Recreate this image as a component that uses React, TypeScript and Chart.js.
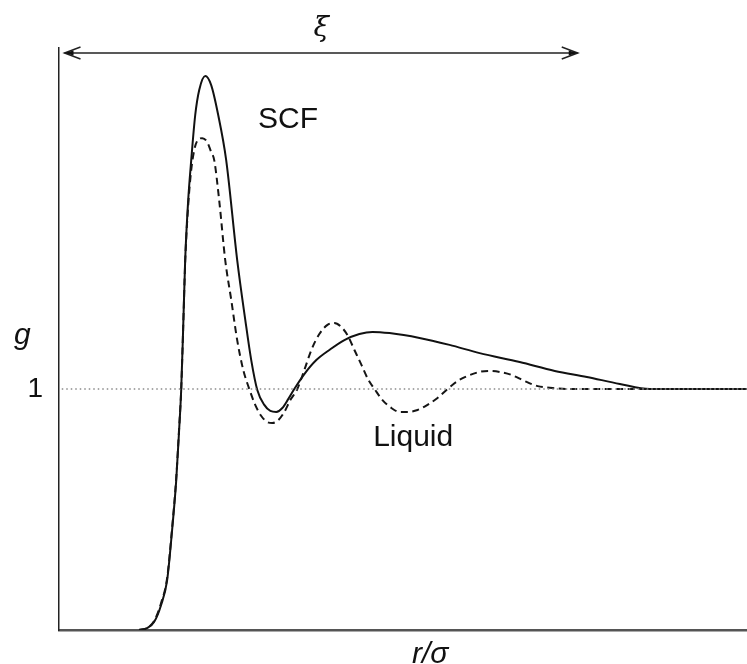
import React, { useEffect, useRef } from "react";
import { Chart, registerables } from "chart.js";

Chart.register(...registerables);

// r/sigma values and g(r) values for the supercritical fluid (solid) curve
const rScf = [0.582, 0.640, 0.691, 0.742, 0.786, 0.822, 0.852, 0.873, 0.888, 0.902, 0.917, 0.939, 0.961, 0.990, 1.019, 1.063, 1.106, 1.157, 1.215, 1.295, 1.354, 1.397, 1.441, 1.492, 1.536, 1.579, 1.623, 1.667, 1.710, 1.783, 1.870, 1.965, 2.074, 2.183, 2.278, 2.402, 2.620, 2.838, 3.057, 3.348, 3.603, 3.836, 4.076, 4.294, 4.658, 5.0];
const gScf = [0, 0.008, 0.033, 0.104, 0.207, 0.415, 0.622, 0.830, 0.996, 1.245, 1.535, 1.784, 1.950, 2.137, 2.241, 2.299, 2.261, 2.137, 1.950, 1.535, 1.286, 1.120, 0.996, 0.934, 0.909, 0.905, 0.921, 0.959, 1.0, 1.062, 1.120, 1.162, 1.203, 1.228, 1.237, 1.232, 1.212, 1.183, 1.149, 1.112, 1.075, 1.050, 1.021, 1.0, 1.0, 1.0];

// r/sigma values and g(r) values for the liquid (dashed) curve
const rLiq = [0.582, 0.640, 0.691, 0.742, 0.786, 0.822, 0.852, 0.873, 0.888, 0.902, 0.917, 0.939, 0.961, 0.983, 1.004, 1.041, 1.077, 1.106, 1.128, 1.164, 1.208, 1.252, 1.295, 1.339, 1.383, 1.426, 1.470, 1.514, 1.550, 1.594, 1.638, 1.681, 1.732, 1.783, 1.834, 1.892, 1.951, 2.001, 2.052, 2.096, 2.147, 2.198, 2.249, 2.293, 2.351, 2.416, 2.475, 2.533, 2.606, 2.678, 2.751, 2.824, 2.897, 2.969, 3.057, 3.130, 3.202, 3.290, 3.384, 3.479, 3.588, 3.712, 3.930, 4.294, 5.0];
const gLiq = [0, 0.008, 0.037, 0.112, 0.216, 0.423, 0.631, 0.838, 0.996, 1.245, 1.527, 1.763, 1.909, 1.992, 2.029, 2.041, 2.025, 1.983, 1.950, 1.784, 1.535, 1.369, 1.203, 1.079, 1.0, 0.934, 0.888, 0.863, 0.859, 0.871, 0.905, 0.954, 1.0, 1.079, 1.162, 1.228, 1.266, 1.274, 1.257, 1.224, 1.162, 1.100, 1.037, 1.0, 0.954, 0.921, 0.905, 0.905, 0.913, 0.934, 0.963, 1.0, 1.033, 1.054, 1.071, 1.075, 1.071, 1.058, 1.033, 1.012, 1.004, 1.0, 1.0, 1.0, 1.0];

// reference level g = 1
const rUnity = [0.02, 5.0];
const gUnity = [1, 1];

// y tick label shown
const yTickValues = [1];

// correlation length xi (arrow span in r/sigma)
const xiRange = [0.04, 3.77];

const X_MAX = 5.0;
const Y_MAX = 2.415;

const toPoints = (xs: number[], ys: number[]) => xs.map((x, i) => ({ x, y: ys[i] }));

const textPlugin = {
  id: "annotations",
  afterDraw(chart: any) {
    const { ctx, chartArea, scales } = chart;
    const x = scales.x;
    const y = scales.y;
    ctx.save();
    ctx.fillStyle = "#111";
    ctx.strokeStyle = "#222";

    // xi arrow
    const xl = x.getPixelForValue(xiRange[0]);
    const xr = x.getPixelForValue(xiRange[1]);
    const ya = chartArea.top + 5;
    ctx.lineWidth = 1.5;
    ctx.beginPath();
    ctx.moveTo(xl, ya);
    ctx.lineTo(xr, ya);
    ctx.stroke();
    const head = (tx: number, dir: number) => {
      ctx.beginPath();
      ctx.moveTo(tx + dir * 16, ya - 6);
      ctx.lineTo(tx, ya);
      ctx.lineTo(tx + dir * 16, ya + 6);
      ctx.stroke();
      ctx.beginPath();
      ctx.moveTo(tx, ya);
      ctx.lineTo(tx + dir * 9, ya - 2.5);
      ctx.lineTo(tx + dir * 9, ya + 2.5);
      ctx.closePath();
      ctx.fill();
    };
    head(xl, 1);
    head(xr, -1);

    ctx.font = "italic 28px 'DejaVu Serif'";
    ctx.textAlign = "center";
    ctx.textBaseline = "alphabetic";
    ctx.fillText("ξ", (xl + xr) / 2, 36);

    // curve labels
    ctx.font = "30px 'Liberation Sans'";
    ctx.textAlign = "left";
    ctx.fillText("SCF", x.getPixelForValue(1.446), y.getPixelForValue(2.083));
    ctx.fillText("Liquid", x.getPixelForValue(2.283), y.getPixelForValue(0.764));

    // y axis label and tick
    ctx.font = "italic 30px 'Liberation Sans'";
    ctx.textAlign = "left";
    ctx.fillText("g", 14, y.getPixelForValue(1.188));
    ctx.font = "28px 'Liberation Sans'";
    ctx.textAlign = "right";
    ctx.textBaseline = "middle";
    yTickValues.forEach((v) => ctx.fillText(String(v), 43, y.getPixelForValue(v)));

    // x axis label
    ctx.font = "italic 30px 'Liberation Sans'";
    ctx.textAlign = "left";
    ctx.textBaseline = "alphabetic";
    ctx.fillText("r/σ", 412, chartArea.bottom + 33);
    ctx.restore();
  },
};

export default function App() {
  const ref = useRef<HTMLCanvasElement | null>(null);
  useEffect(() => {
    if (!ref.current) return;
    const chart = new Chart(ref.current, {
      type: "scatter",
      data: {
        datasets: [
          {
            label: "unity",
            data: toPoints(rUnity, gUnity),
            showLine: true,
            borderColor: "#8a8a8a",
            borderWidth: 1.5,
            borderDash: [1.5, 3],
            pointRadius: 0,
          },
          {
            label: "Liquid",
            data: toPoints(rLiq, gLiq),
            showLine: true,
            borderColor: "#151515",
            borderWidth: 2,
            borderDash: [7, 4.5],
            pointRadius: 0,
            cubicInterpolationMode: "monotone",
          },
          {
            label: "SCF",
            data: toPoints(rScf, gScf),
            showLine: true,
            borderColor: "#111",
            borderWidth: 2,
            pointRadius: 0,
            cubicInterpolationMode: "monotone",
          },
        ],
      },
      options: {
        animation: false,
        responsive: false,
        layout: { padding: { left: 59, top: 48, right: 0, bottom: 34 } },
        plugins: { legend: { display: false }, tooltip: { enabled: false } },
        scales: {
          x: {
            type: "linear",
            min: 0,
            max: X_MAX,
            grid: { display: false, drawTicks: false },
            ticks: { display: false },
            border: { display: true, color: "#555", width: 2.5 },
          },
          y: {
            type: "linear",
            min: 0,
            max: Y_MAX,
            grid: { display: false, drawTicks: false },
            ticks: { display: false },
            border: { display: true, color: "#222", width: 1.5 },
          },
        },
      },
      plugins: [textPlugin],
    });
    return () => chart.destroy();
  }, []);
  return (
    <div style={{ position: "absolute", left: 0, top: 0, width: 747, height: 664, background: "#fff" }}>
      <canvas ref={ref} width={747} height={664} style={{ display: "block" }} />
    </div>
  );
}
